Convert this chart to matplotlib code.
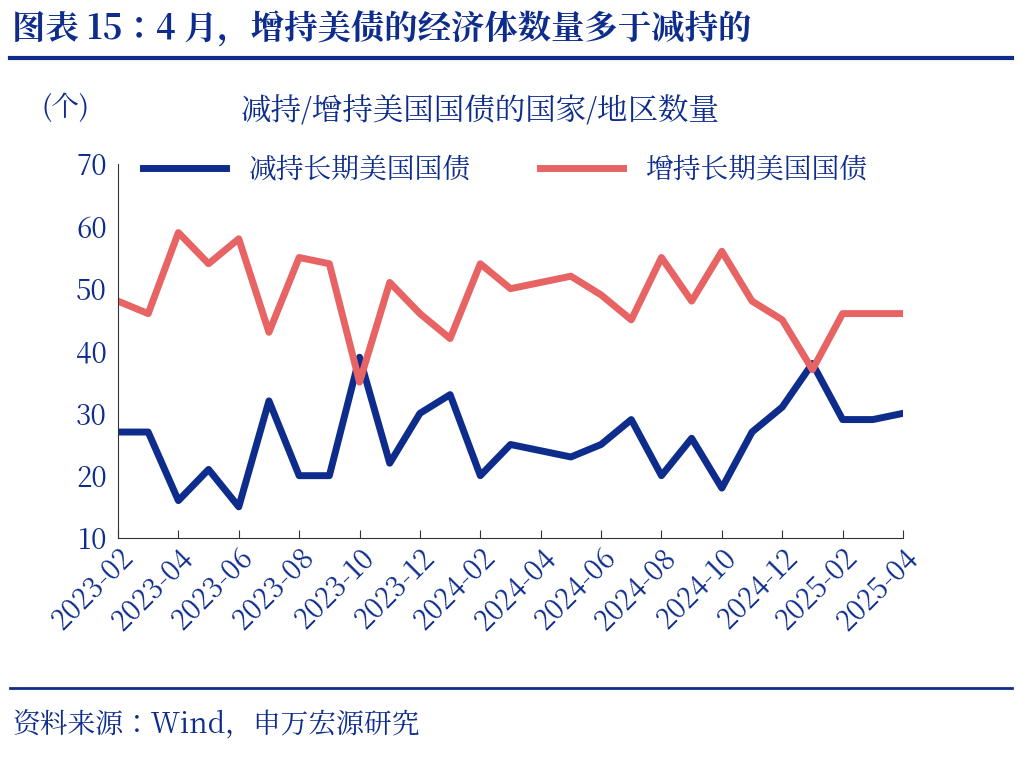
import matplotlib.pyplot as plt
from matplotlib import font_manager
from matplotlib.lines import Line2D

# pick whatever CJK font is actually registered
cjk = [f.name for f in font_manager.fontManager.ttflist if 'CJK' in f.name]
plt.rcParams['font.family'] = 'sans-serif'
plt.rcParams['font.sans-serif'] = cjk[:1] + ['Noto Sans CJK SC', 'Noto Sans CJK JP', 'DejaVu Sans']

months = ['2023-02', '2023-03', '2023-04', '2023-05', '2023-06', '2023-07', '2023-08',
          '2023-09', '2023-10', '2023-11', '2023-12', '2024-01', '2024-02', '2024-03',
          '2024-04', '2024-05', '2024-06', '2024-07', '2024-08', '2024-09', '2024-10',
          '2024-11', '2024-12', '2025-01', '2025-02', '2025-03', '2025-04']
reduce_cnt = [27, 27, 16, 21, 15, 32, 20, 20, 39, 22, 30, 33, 20, 25, 24, 23, 25, 29,
              20, 26, 18, 27, 31, 38, 29, 29, 30]
increase_cnt = [48, 46, 59, 54, 58, 43, 55, 54, 35, 51, 46, 42, 54, 50, 51, 52, 49, 45,
                55, 48, 56, 48, 45, 37, 46, 46, 46]

blue = '#0d2c8c'
red = '#e86464'

fig = plt.figure(figsize=(10.22, 7.58), dpi=100)
ax = fig.add_axes([118/1022, 1-538/758, (903-118)/1022, (538-164)/758])

x = list(range(len(months)))
ax.plot(x, reduce_cnt, color=blue, lw=5, label='减持长期美国国债')
ax.plot(x, increase_cnt, color=red, lw=5, label='增持长期美国国债')

ax.set_ylim(10, 70)
ax.set_xlim(0, len(months) - 1)
ax.set_yticks(range(10, 71, 10))
ax.set_xticks(x[::2])
ax.set_xticklabels(months[::2], rotation=45, ha='right', rotation_mode='anchor')
ax.tick_params(axis='both', labelsize=20, colors=blue, length=5)
ax.tick_params(axis='y', length=0, pad=8)
ax.tick_params(axis='x', direction='in', length=6, color='#333333')
for s in ['top', 'right']:
    ax.spines[s].set_visible(False)
for s in ['left', 'bottom']:
    ax.spines[s].set_color('#333333')

ax.legend(loc='upper left', bbox_to_anchor=(0.0, 1.09), ncol=2, frameon=False,
          fontsize=20, handlelength=3, columnspacing=2.5, labelcolor=blue)

fig.text(42/1022, 1-108/758, '(个)', fontsize=20, color=blue, va='center')
fig.text(480/1022, 1-112/758, '减持/增持美国国债的国家/地区数量', fontsize=22,
         color=blue, ha='center', va='center')
fig.text(12/1022, 1-30/758, '图表 15：4 月，增持美债的经济体数量多于减持的',
         fontsize=24, color=blue, fontweight='bold', va='center')
fig.add_artist(Line2D([10/1022, 1012/1022], [1-58/758, 1-58/758], color=blue, lw=3))
fig.add_artist(Line2D([10/1022, 1012/1022], [1-688/758, 1-688/758], color=blue, lw=2))
fig.text(12/1022, 1-726/758, '资料来源：Wind，申万宏源研究', fontsize=20, color=blue, va='center')

fig.savefig('out.png', dpi=100)
